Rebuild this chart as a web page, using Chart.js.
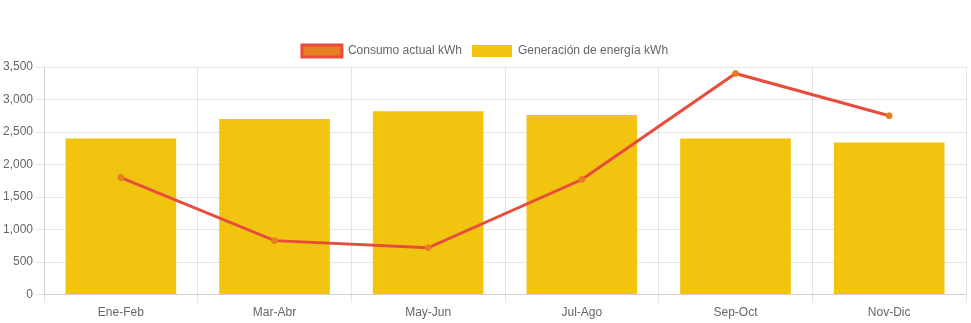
<!DOCTYPE html>
<html>
<head>
<meta charset="utf-8">
<script src="https://cdn.jsdelivr.net/npm/chart.js@4"></script>
<style>
  body { margin: 0; background: #fff; }
  #wrap { position: relative; width: 971px; height: 323px; }
</style>
</head>
<body>
<div id="wrap"><canvas id="energyChart"></canvas></div>
<script>
const periods = ["Ene-Feb", "Mar-Abr", "May-Jun", "Jul-Ago", "Sep-Oct", "Nov-Dic"];
const consumoActual = [1800, 830, 720, 1770, 3400, 2750];
const generacion = [2400, 2700, 2820, 2760, 2400, 2340];

Chart.defaults.font.family = "'Liberation Sans', Arial, sans-serif";
Chart.defaults.font.size = 12;
Chart.defaults.color = "#666";

const ctx = document.getElementById("energyChart").getContext("2d");
new Chart(ctx, {
  type: "bar",
  data: {
    labels: periods,
    datasets: [
      {
        type: "line",
        label: "Consumo actual kWh",
        data: consumoActual,
        borderColor: "#e74c3c",
        backgroundColor: "#e67e22",
        pointBackgroundColor: "#e67e22",
        pointBorderColor: "#e67e22",
        pointBorderWidth: 1,
        pointRadius: 3,
        borderWidth: 3,
        fill: false,
        tension: 0,
        order: 0,
      },
      {
        label: "Generación de energía kWh",
        data: generacion,
        backgroundColor: "#f1c40f",
        borderColor: "#f1c40f",
        order: 1,
      },
    ],
  },
  options: {
    responsive: true,
    maintainAspectRatio: false,
    animation: false,
    layout: { padding: { top: 35, right: 1 } },
    plugins: {
      legend: { position: "top" },
      tooltip: { enabled: false },
    },
    scales: {
      y: { beginAtZero: true, max: 3500, ticks: { stepSize: 500 } },
    },
  },
});
</script>
</body>
</html>
